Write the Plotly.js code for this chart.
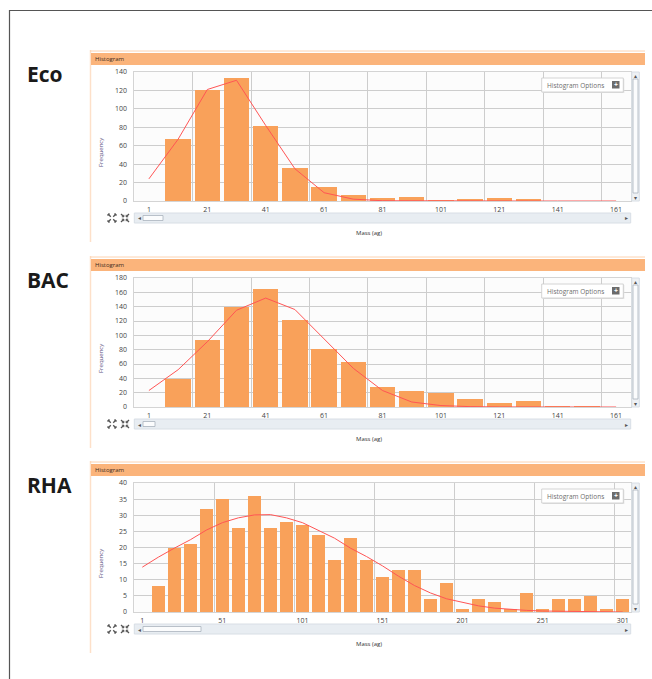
<!DOCTYPE html>
<html><head><meta charset="utf-8">
<script src="https://cdn.plot.ly/plotly-3.0.1.min.js"></script>
<style>html,body{margin:0;padding:0;background:#fff;}#chart{width:652px;height:679px;}</style>
</head><body><div id="chart"></div>
<script>
// ---------- data ----------
const binCenters = [1,11,21,31,41,51,61,71,81,91,101,111,121,131,141,151,161];
const ecoCounts  = [0,67,121,134,81,36,15,7,3,4,1,2,3,2,0,0,0];
const ecoFit     = [24,67,121,131,82,35,9,2,0.3,0.1,0,0,0,0,0,0,0];
const bacCounts  = [0,39,93,140,164,122,81,63,28,22,19,11,5,9,1,1,0];
const bacFit     = [23,52,91,135,152,136,95,54,23,7,2,0.5,0.1,0,0,0,0];
const rhaBinCenters = [1,11,21,31,41,51,61,71,81,91,101,111,121,131,141,151,161,171,181,191,201,211,221,231,241,251,261,271,281,291,301];
const rhaCounts  = [0,8,20,21,32,35,26,36,26,28,27,24,16,23,16,11,13,13,4,9,1,4,3,1,6,1,4,4,5,1,4];
const rhaFit     = [13.9,17.0,19.8,22.4,25.4,27.7,29.2,30.1,30.2,29.2,27.7,25.4,22.9,19.8,17.2,14.3,11.1,8.2,5.9,4.1,2.9,1.9,1.2,0.8,0.5,0.3,0.2,0.1,0.05,0,0];
const xTicksSmall = [1,21,41,61,81,101,121,141,161];
const xTicksRha   = [1,51,101,151,201,251,301];
const panelNames  = ['Eco','BAC','RHA'];
const headerText  = 'Histogram';
const yTitle      = 'Frequency';
const xTitle      = 'Mass (ag)';
const optionsText = 'Histogram Options';

// ---------- layout helpers ----------
const W=652,H=679;
const X=v=>v/W, Y=v=>1-v/H;
const tops=[50,256,461];
const plotL=134.3, plotR=630.7;
const BAR='#f9a15a', FIT='#ff5555', GRID='#cdcdcd';
const FONT='Open Sans, Noto Sans, sans-serif';

const panels=[
  {x:binCenters, counts:ecoCounts, fit:ecoFit, ymax:140, dy:20, xr:[-4,166], grid:20, ticks:xTicksSmall, bw:8.75, thumbR:163},
  {x:binCenters, counts:bacCounts, fit:bacFit, ymax:180, dy:20, xr:[-4,166], grid:20, ticks:xTicksSmall, bw:8.75, thumbR:155},
  {x:rhaBinCenters, counts:rhaCounts, fit:rhaFit, ymax:40, dy:5, xr:[-4,306], grid:50, ticks:xTicksRha, bw:8.3, thumbR:201}
];

const data=[]; const layout={width:W,height:H,margin:{l:0,r:0,t:0,b:0},paper_bgcolor:'#fff',plot_bgcolor:'#fcfcfc',showlegend:false,bargap:0,shapes:[],annotations:[],font:{family:FONT}};
const S=layout.shapes, A=layout.annotations;
const rect=(x0,y0,x1,y1,fill,line,lw)=>S.push({type:'rect',xref:'paper',yref:'paper',x0:X(x0),x1:X(x1),y0:Y(y1),y1:Y(y0),fillcolor:fill,line:{color:line||'rgba(0,0,0,0)',width:lw===undefined?(line?1:0):lw},layer:'above'});
const seg=(x0,y0,x1,y1,color,w)=>S.push({type:'line',xref:'paper',yref:'paper',x0:X(x0),x1:X(x1),y0:Y(y0),y1:Y(y1),line:{color:color,width:w},layer:'above'});
const txt=(x,y,t,o)=>A.push(Object.assign({xref:'paper',yref:'paper',x:X(x),y:Y(y),text:t,showarrow:false,xanchor:'center',yanchor:'middle',font:{family:FONT,size:6,color:'#333'}},o||{}));

// outer frame
seg(9,10.5,652,10.5,'#555',1.2);
seg(9.5,10,9.5,679,'#555',1.2);

panels.forEach((p,i)=>{
  const T=tops[i];
  const sfx=i?String(i+1):'';
  data.push({type:'bar',x:p.x,y:p.counts,width:p.bw,marker:{color:BAR,line:{width:0}},xaxis:'x'+sfx,yaxis:'y'+sfx,hoverinfo:'skip'});
  data.push({type:'scatter',mode:'lines',x:p.x,y:p.fit,line:{color:FIT,width:1},xaxis:'x'+sfx,yaxis:'y'+sfx,hoverinfo:'skip'});
  layout['xaxis'+sfx]={domain:[X(plotL),X(plotR)],range:p.xr,anchor:'y'+sfx,tickmode:'array',tickvals:p.ticks,
    showgrid:false,minor:{tickmode:'linear',tick0:p.xr[0],dtick:p.grid,showgrid:true,gridcolor:GRID,gridwidth:1,ticks:''},
    showline:true,mirror:true,linecolor:'#d4d4d4',zeroline:false,ticks:'',ticklabelstandoff:2,
    tickfont:{family:FONT,size:7,color:'#444'},fixedrange:true};
  layout['yaxis'+sfx]={domain:[Y(T+151),Y(T+22)],range:[0,p.ymax],anchor:'x'+sfx,tickmode:'linear',tick0:0,dtick:p.dy,
    showgrid:true,gridcolor:GRID,gridwidth:1,showline:true,mirror:true,linecolor:'#d4d4d4',zeroline:false,ticks:'',
    ticklabelstandoff:5,tickfont:{family:FONT,size:7,color:'#444'},fixedrange:true};

  // panel chrome
  seg(90.5,T,90.5,T+192,'#fde0c9',1.5);
  seg(90,T+1,645,T+1,'#fcd2b0',1);
  rect(91,T+3,645,T+15,'#fbb47b');
  txt(93,T+9.2,headerText,{xanchor:'left',font:{family:FONT,size:6,color:'#3a2a20'}});
  txt(25,T+24,'<b>'+panelNames[i]+'</b>',{xanchor:'left',font:{family:FONT,size:21,color:'#1a1a1a'}});
  txt(101,T+103,yTitle,{textangle:-90,font:{family:FONT,size:6,color:'#5c5080'}});
  txt(369,T+183,xTitle,{font:{family:FONT,size:6,color:'#333'}});
  // horizontal scrollbar
  rect(plotL,T+163,plotR,T+173,'#e8edf2','#d8dee5',1);
  rect(143,T+165.5,p.thumbR,T+170.5,'#fbfcfd','#a9b2bc',0.8);
  txt(139,T+168,'◂',{font:{family:'DejaVu Sans',size:6,color:'#555'}});
  txt(626,T+168,'▸',{font:{family:'DejaVu Sans',size:6,color:'#555'}});
  // vertical scrollbar
  rect(631.8,T+22,639.3,T+151,'#eef1f4','#d8dee5',1);
  rect(633,T+29,638,T+143,'#fbfcfd','#a9b2bc',0.8);
  txt(635.5,T+25.2,'▴',{font:{family:'DejaVu Sans',size:6,color:'#555'}});
  txt(635.5,T+147.5,'▾',{font:{family:'DejaVu Sans',size:6,color:'#555'}});
  // options box
  rect(542.7,T+29,624.3,T+43,'#e2e2e2');
  rect(541.7,T+28,623.3,T+42,'#ffffff','#c9c9c9',0.8);
  txt(545,T+35,optionsText,{xanchor:'left',font:{family:FONT,size:6.5,color:'#6e6e6e'}});
  rect(612,T+31,619.5,T+38.5,'#6b6b6b');
  txt(615.8,T+34.8,'<b>+</b>',{font:{family:FONT,size:7,color:'#ffffff'}});
  // zoom icons
  const cy=T+168;
  [[112,1],[125,-1]].forEach(([cx,dir])=>{
    [[-1,-1],[1,-1],[-1,1],[1,1]].forEach(([sx,sy])=>{
      const a=1.2,b=4;
      seg(cx+sx*a,cy+sy*a,cx+sx*b,cy+sy*b,'#555',1.3);
      // small arrow head at outer (dir 1) or inner (dir -1) end
      const hx=dir>0?cx+sx*b:cx+sx*a, hy=dir>0?cy+sy*b:cy+sy*a;
      const hs=dir>0?-1:1;
      seg(hx,hy,hx+hs*sx*2,hy,'#555',1);
      seg(hx,hy,hx,hy+hs*sy*2,'#555',1);
    });
  });
});

Plotly.newPlot('chart',data,layout,{staticPlot:true,displayModeBar:false});
</script></body></html>
